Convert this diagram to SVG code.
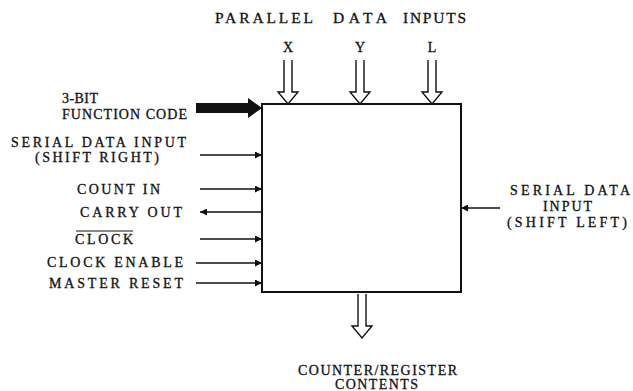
<svg xmlns="http://www.w3.org/2000/svg" width="633" height="391" viewBox="0 0 633 391">
<style>
text{font-family:"Liberation Serif","Times New Roman",serif;font-size:14px;fill:#111;stroke:#111;stroke-width:0.3}
.big{font-size:15.5px}
.ln{stroke:#111;stroke-width:1.6;fill:none}
.hol{stroke:#111;stroke-width:1.4;fill:#fff}
</style>
<defs>
<marker id="ah" viewBox="0 0 10 10" refX="10" refY="5" markerWidth="9" markerHeight="7" markerUnits="userSpaceOnUse" orient="auto">
<path d="M0,0 L10,5 L0,10 Z" fill="#111"/>
</marker>
<g id="hollowDown">
<path class="hol" d="M-4,0 V32 H-10 L0,44 L10,32 H4 V0"/>
</g>
</defs>
<rect width="633" height="391" fill="#fff"/>
<g id="block"><rect x="262" y="104" width="199" height="188" fill="none" stroke="#111" stroke-width="2"/></g>
<g id="labels-top">
<text class="big" x="215" y="23" textLength="98" lengthAdjust="spacing">PARALLEL</text>
<text class="big" x="333" y="23" textLength="54" lengthAdjust="spacing">DATA</text>
<text class="big" x="403" y="23" textLength="63" lengthAdjust="spacing">INPUTS</text>
<text x="288" y="52" text-anchor="middle">X</text>
<text x="360" y="52" text-anchor="middle">Y</text>
<text x="432" y="52" text-anchor="middle">L</text>
</g>
<g id="labels-left">
<text x="62" y="103" textLength="36" lengthAdjust="spacing">3-BIT</text>
<text x="62" y="119" textLength="125" lengthAdjust="spacing">FUNCTION CODE</text>
<text x="11" y="147" textLength="175" lengthAdjust="spacing">SERIAL DATA INPUT</text>
<text x="35" y="162" textLength="124" lengthAdjust="spacing">(SHIFT RIGHT)</text>
<text x="77" y="194" textLength="83" lengthAdjust="spacing">COUNT IN</text>
<text x="80" y="217" textLength="102" lengthAdjust="spacing">CARRY OUT</text>
<text x="75" y="244" textLength="58" lengthAdjust="spacing">CLOCK</text>
<line x1="76" y1="231" x2="133" y2="231" stroke="#111" stroke-width="1"/>
<text x="47" y="267" textLength="136" lengthAdjust="spacing">CLOCK ENABLE</text>
<text x="49" y="288" textLength="134" lengthAdjust="spacing">MASTER RESET</text>
</g>
<g id="labels-right">
<text x="510" y="195" textLength="120" lengthAdjust="spacing">SERIAL DATA</text>
<text x="543" y="211" textLength="49" lengthAdjust="spacing">INPUT</text>
<text x="507" y="227" textLength="120" lengthAdjust="spacing">(SHIFT LEFT)</text>
</g>
<g id="labels-bottom">
<text x="298" y="375" textLength="159" lengthAdjust="spacing">COUNTER/REGISTER</text>
<text x="335" y="389" textLength="83" lengthAdjust="spacing">CONTENTS</text>
</g>
<g id="connectors">
<use href="#hollowDown" x="288" y="60"/>
<use href="#hollowDown" x="360" y="60"/>
<use href="#hollowDown" x="432" y="60"/>
<use href="#hollowDown" x="362" y="294"/>
<path d="M196,103 H248 V98 L262,108 L248,118 V113 H196 Z" fill="#111"/>
<line class="ln" x1="200" y1="155" x2="262" y2="155" marker-end="url(#ah)"/>
<line class="ln" x1="200" y1="189" x2="262" y2="189" marker-end="url(#ah)"/>
<line class="ln" x1="262" y1="212" x2="200" y2="212" marker-end="url(#ah)"/>
<line class="ln" x1="200" y1="239" x2="262" y2="239" marker-end="url(#ah)"/>
<line class="ln" x1="196" y1="263" x2="262" y2="263" marker-end="url(#ah)"/>
<line class="ln" x1="196" y1="283" x2="262" y2="283" marker-end="url(#ah)"/>
<line class="ln" x1="500" y1="208" x2="461" y2="208" marker-end="url(#ah)"/>
</g>
</svg>
